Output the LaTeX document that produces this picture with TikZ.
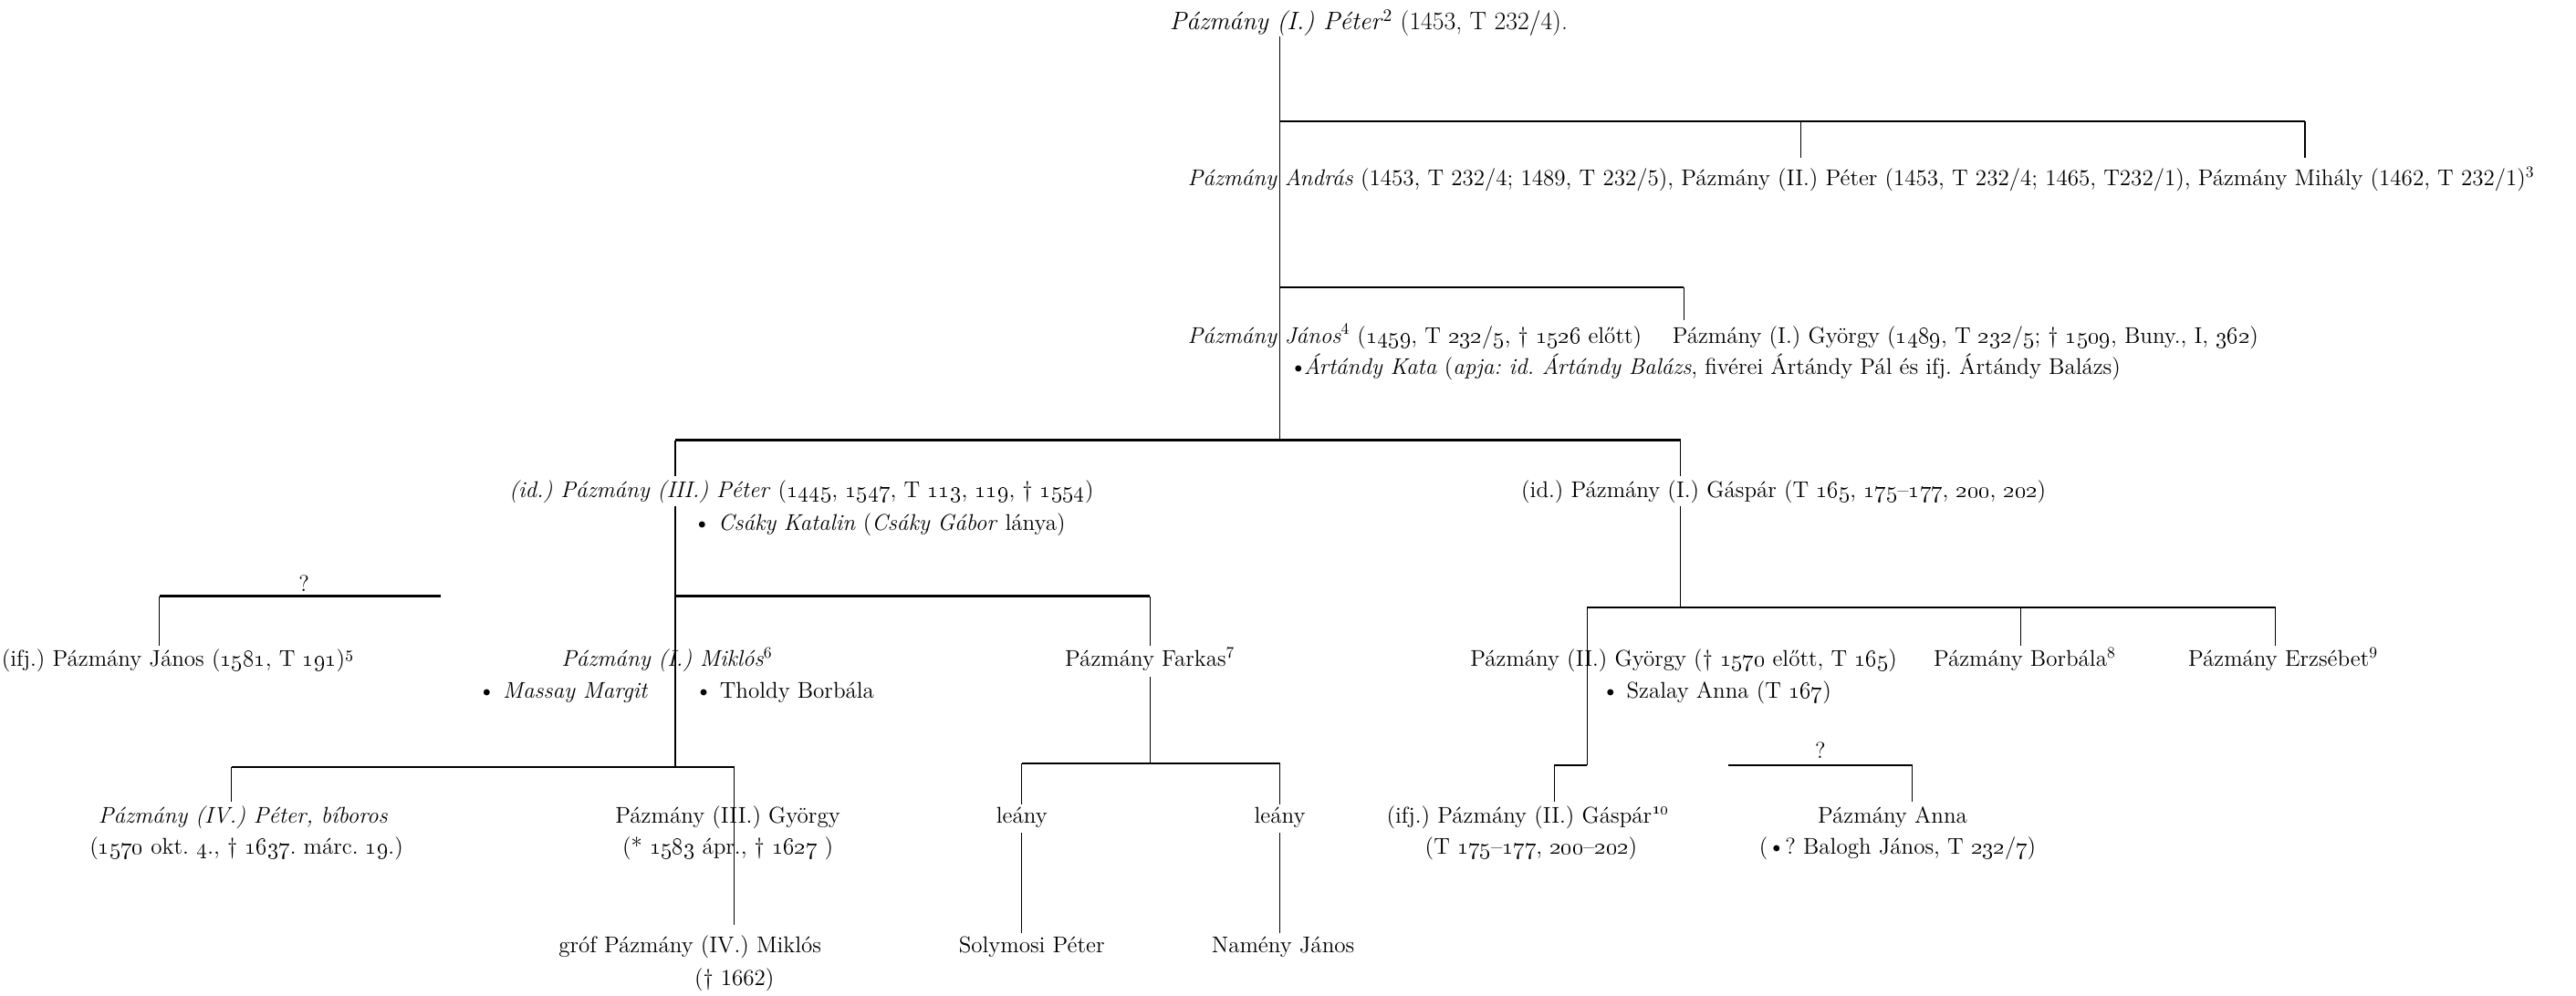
\documentclass[tikz,border=0pt]{standalone}
\newcommand\osn[1]{\oldstylenums{#1}}
\begin{document}
\frenchspacing
\begin{tikzpicture}[x=1pt,y=-1pt,
  every node/.style={inner sep=0pt, outer sep=0pt, font=\fontsize{13.9}{19.5}\selectfont\frenchspacing},
  lt/.style={anchor=base west},
  ct/.style={anchor=base},
  hline/.style={line width=1.3pt},
  vline/.style={line width=0.7pt}]
\useasboundingbox (0,0) rectangle (1568,606);

% ---------- texts ----------
\node[lt, font=\fontsize{15.4}{19.5}\selectfont\frenchspacing] (root) at (712,18) {\textit{Pázmány (I.) Péter}\textsuperscript{2} (1453, T 232/4).};
\node[lt] (gen2) at (723,113) {\textit{Pázmány András} (1453, T 232/4; 1489, T 232/5), Pázmány (II.) Péter (1453, T 232/4; 1465, T232/1), Pázmány Mihály (1462, T 232/1)\textsuperscript{3}};
\node[lt] (janos) at (723,209) {\textit{Pázmány János}\textsuperscript{4} (\osn{1459}, T \osn{232}/\osn{5}, † \osn{1526} előtt)};
\node[lt] (gyorgy1) at (1018,209) {Pázmány (I.) György (\osn{1489}, T \osn{232}/\osn{5}; † \osn{1509}, Buny., I, \osn{362})};
\node[lt] (artandy) at (785,228) {•\kern-2pt\textit{Ártándy Kata} (\textit{apja: id. Ártándy Balázs}, fivérei Ártándy Pál és ifj. Ártándy Balázs)};
\node[lt] (peter3) at (310,303) {\textit{(id.) Pázmány (III.) Péter} (\osn{1445}, \osn{1547}, T \osn{113}, \osn{119}, † \osn{1554})};
\node[lt] (gaspar1) at (926,303) {(id.) Pázmány (I.) Gáspár (T \osn{165}, \osn{175}–\osn{177}, \osn{200}, \osn{202})};
\node[lt] (csaky) at (422,323) {• \textit{Csáky Katalin} (\textit{Csáky Gábor} lánya)};
\node[ct] (q1) at (185,360) {?};
\node[lt] (janos5) at (1,406) {(ifj.) Pázmány János (\osn{1581}, T \osn{191})\textsuperscript{\osn{5}}};
\node[ct] (miklos1) at (406,406) {\textit{Pázmány (I.) Miklós}\textsuperscript{6}};
\node[ct] (farkas) at (700,406) {Pázmány Farkas\textsuperscript{7}};
\node[lt] (gyorgy2) at (895,406) {Pázmány (II.) György († \osn{1570} előtt, T \osn{165})};
\node[lt] (borbala) at (1177,406) {Pázmány Borbála\textsuperscript{8}};
\node[lt] (erzsebet) at (1332,406) {Pázmány Erzsébet\textsuperscript{9}};
\node[lt] (massay) at (291,425) {• \textit{Massay Margit}};
\node[lt] (tholdy) at (423,425) {• Tholdy Borbála};
\node[lt] (szalay) at (975,425) {• Szalay Anna (T \osn{167})};
\node[ct] (q2) at (1108,462) {?};
\node[ct] (peter4) at (148,501) {\textit{Pázmány (IV.) Péter, bíboros}};
\node[ct] (peter4d) at (150,520) {(\osn{1570} okt. \osn{4}., † \osn{1637}. márc. \osn{19}.)};
\node[ct] (gyorgy3) at (443,501) {Pázmány (III.) György};
\node[ct] (gyorgy3d) at (443,520) {(* \osn{1583} ápr., † \osn{1627} )};
\node[ct] (leany1) at (622,501) {leány};
\node[ct] (leany2) at (779,501) {leány};
\node[ct] (gaspar2) at (930,501) {(ifj.) Pázmány (II.) Gáspár\textsuperscript{\osn{10}}};
\node[ct] (gaspar2d) at (932,520) {(T \osn{175}–\osn{177}, \osn{200}–\osn{202})};
\node[ct] (anna) at (1152,501) {Pázmány Anna};
\node[ct] (annad) at (1155,520) {(•? Balogh János, T \osn{232}/\osn{7})};
\node[ct] (miklos4) at (420,580) {gróf Pázmány (IV.) Miklós};
\node[ct] (miklos4d) at (447,600) {(† 1662)};
\node[ct] (solymosi) at (628,580) {Solymosi Péter};
\node[ct] (nameny) at (781,580) {Namény János};

% ---------- junction points ----------
\coordinate (v0) at (779,22);
\coordinate (j1) at (779,74);
\coordinate (j1m) at (1096,74);
\coordinate (t1m) at (1096,96);
\coordinate (j1r) at (1403,74);
\coordinate (t1r) at (1403,96);
\coordinate (j2) at (779,175);
\coordinate (j2r) at (1025,175);
\coordinate (t2r) at (1025,195);
\coordinate (j3) at (779,268);
\coordinate (j3l) at (411,268);
\coordinate (t3l) at (411,290);
\coordinate (j3r) at (1023,268);
\coordinate (t3r) at (1023,290);
\coordinate (p3top) at (411,308);
\coordinate (p3j) at (411,363);
\coordinate (p3bot) at (411,467);
\coordinate (fj) at (700,363);
\coordinate (ft) at (700,393);
\coordinate (qa) at (97,363);
\coordinate (qat) at (97,393);
\coordinate (qb) at (268,363);
\coordinate (g1top) at (1023,308);
\coordinate (g1j) at (1023,370);
\coordinate (gl) at (966,370);
\coordinate (gm) at (1230,370);
\coordinate (gmt) at (1230,393);
\coordinate (gr) at (1385,370);
\coordinate (grt) at (1385,393);
\coordinate (g2bot) at (966,466);
\coordinate (ml) at (141,467);
\coordinate (mlt) at (141,488);
\coordinate (mr) at (447,467);
\coordinate (mrt) at (447,563);
\coordinate (fb0) at (700,412);
\coordinate (fb) at (700,465);
\coordinate (fl) at (622,465);
\coordinate (fl1) at (622,490);
\coordinate (fl2) at (622,507);
\coordinate (fl3) at (622,568);
\coordinate (fr) at (779,465);
\coordinate (fr1) at (779,490);
\coordinate (fr2) at (779,507);
\coordinate (fr3) at (779,568);
\coordinate (gs) at (946,466);
\coordinate (gst) at (946,488);
\coordinate (aq) at (1052,466);
\coordinate (ar) at (1164,466);
\coordinate (art) at (1164,488);

% ---------- connectors ----------
\draw[vline] (v0) -- (j3);
\draw[hline] (j1) -- (j1r);
\draw[vline] (j1m) -- (t1m);
\draw[vline] (j1r) -- (t1r);
\draw[hline] (j2) -- (j2r);
\draw[vline] (j2r) -- (t2r);
\draw[hline] (j3l) -- (j3r);
\draw[vline] (j3l) -- (t3l);
\draw[vline] (j3r) -- (t3r);
\draw[vline] (p3top) -- (p3bot);
\draw[hline] (p3j) -- (fj);
\draw[vline] (fj) -- (ft);
\draw[hline] (qa) -- (qb);
\draw[vline] (qa) -- (qat);
\draw[vline] (g1top) -- (g1j);
\draw[hline] (gl) -- (gr);
\draw[vline] (gl) -- (g2bot);
\draw[vline] (gm) -- (gmt);
\draw[vline] (gr) -- (grt);
\draw[hline] (ml) -- (mr);
\draw[vline] (ml) -- (mlt);
\draw[vline] (mr) -- (mrt);
\draw[vline] (fb0) -- (fb);
\draw[hline] (fl) -- (fr);
\draw[vline] (fl) -- (fl1);
\draw[vline] (fl2) -- (fl3);
\draw[vline] (fr) -- (fr1);
\draw[vline] (fr2) -- (fr3);
\draw[hline] (gs) -- (g2bot);
\draw[vline] (gs) -- (gst);
\draw[hline] (aq) -- (ar);
\draw[vline] (ar) -- (art);
\end{tikzpicture}
\end{document}
